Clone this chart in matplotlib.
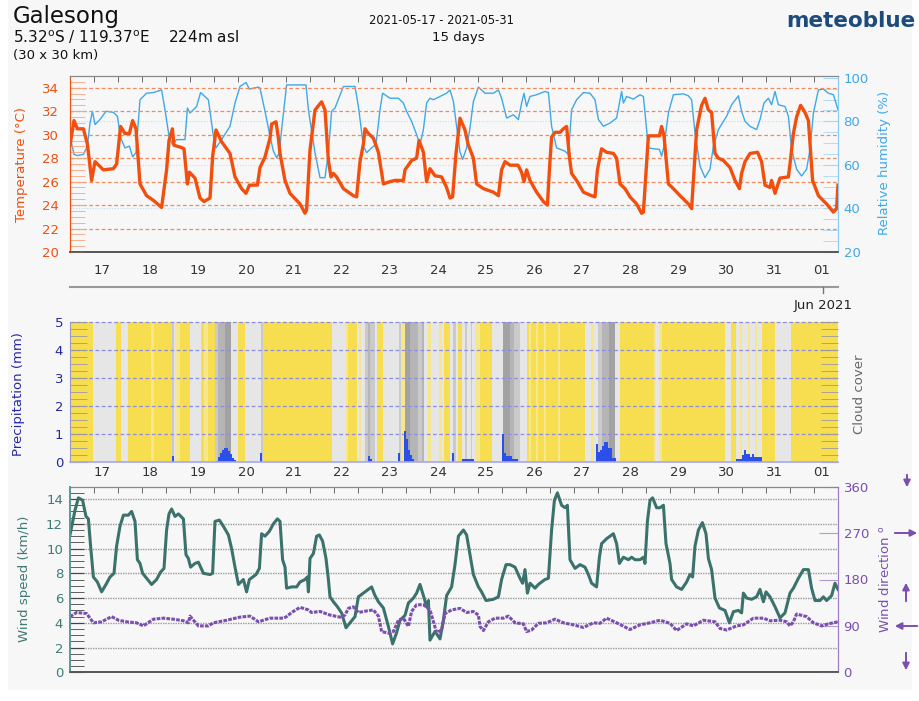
import numpy as np
import matplotlib
matplotlib.use("Agg")
import matplotlib.pyplot as plt
from matplotlib.patches import Rectangle, FancyArrowPatch
from matplotlib.lines import Line2D
from matplotlib.ticker import MultipleLocator

# time axis: hours from the left edge of the chart (16 days shown)
day_labels = ['17', '18', '19', '20', '21', '22', '23', '24', '25', '26',
              '27', '28', '29', '30', '31', '01']
day_hours = [16 + 24 * i for i in range(len(day_labels))]

# temperature (°C)
temp_h = [0, 2, 3.7, 6.7, 8.7, 10.8, 12.5, 16.7, 21.7, 23.3, 25.3, 27.5, 29.7, 31.3, 33, 35,
          38.3, 41.7, 45.8, 48.3, 49.5, 51.2, 52, 55.8, 57, 58.7, 59.7, 62.5, 65, 67, 70,
          71.3, 73, 75.8, 80, 82.5, 85.8, 88, 89.7, 93.7, 95, 97.5, 100, 100.8, 103, 104.2,
          105, 107.5, 110, 115, 117.5, 118.3, 120, 122.5, 125.8, 127.5, 129.2, 130.5, 131.7,
          133.3, 136.7, 141.7, 143.3, 145, 146.7, 147.5, 149.2, 151.7, 154.2, 156.7, 160,
          162.5, 166.7, 167.5, 170.8, 173.3, 174.5, 176.7, 178.3, 180, 182.5, 185.8, 188.3,
          190, 191.3, 193, 195, 197.5, 199, 201.7, 203.3, 206.7, 211.7, 214.2, 215.8, 217.5,
          220, 224, 225.8, 227, 228.3, 230, 233.3, 236.7, 238.7, 239.7, 240.8, 242.5, 245,
          246.7, 248.3, 249.7, 250.8, 253.3, 256.7, 260.8, 262.5, 263.7, 265.8, 268.3, 271.7,
          273.3, 275, 277.5, 280, 283.3, 285.8, 286.7, 289.2, 291.7, 294.7, 295.8, 297,
          299.2, 301.7, 305, 309.2, 310.8, 311.7, 313.3, 315.8, 317.5, 319.2, 320.8, 322.5,
          324.2, 326.7, 330, 332.5, 334.7, 335.8, 337.5, 340, 343.8, 345.8, 347.5, 350,
          350.8, 352.5, 355, 359.2, 360, 361.7, 363.3, 365.3, 367.5, 369.2, 371.3, 374.2,
          378.3, 381.7, 383.3, 384]
temp_c = [29.1, 31.2, 30.5, 30.5, 29.2, 26.1, 27.7, 27.0, 27.1, 27.5, 30.7, 30.1, 30.1, 31.2, 30.5, 25.8,
          24.8, 24.4, 23.8, 27.0, 29.5, 30.5, 29.1, 28.9, 28.8, 25.8, 26.8, 26.3, 24.6, 24.3, 24.6,
          28.1, 30.4, 29.4, 28.4, 26.4, 25.4, 25.0, 25.7, 25.7, 27.2, 28.1, 29.7, 30.9, 31.1, 29.7,
          28.4, 26.1, 25.0, 24.1, 23.3, 23.6, 28.7, 32.1, 32.8, 32.1, 27.8, 26.4, 26.7,
          26.4, 25.4, 24.8, 24.7, 27.7, 29.2, 30.5, 30.1, 29.7, 28.5, 25.8, 26.0,
          26.1, 26.1, 27.0, 27.8, 28.0, 29.5, 28.5, 26.0, 27.1, 26.5, 26.4, 25.5,
          24.6, 24.7, 28.4, 31.4, 30.4, 29.2, 28.0, 25.8, 25.4, 25.1, 24.8, 27.0, 27.7,
          27.4, 27.4, 26.8, 26.0, 27.0, 26.1, 25.1, 24.3, 24.0, 27.0, 29.8, 30.2, 30.2,
          30.5, 30.7, 28.1, 26.7, 26.1, 25.1, 24.8, 24.7, 27.0, 28.8, 28.5, 28.4,
          28.0, 25.8, 25.4, 24.7, 24.1, 23.3, 23.4, 29.9, 29.9, 29.9, 30.7, 29.9,
          25.8, 25.4, 24.8, 24.1, 23.7, 26.1, 30.4, 32.5, 33.1, 32.1, 31.9, 28.4,
          28.0, 27.8, 27.2, 26.1, 25.4, 26.7, 27.7, 28.4, 28.5, 27.7, 25.7, 25.5,
          26.1, 25.0, 26.3, 26.4, 27.5, 30.1, 31.5, 32.5, 31.9, 31.2, 26.1, 24.8,
          24.1, 23.4, 23.7, 25.7]

# relative humidity (%)
rh_h = [0, 2, 3.7, 6.7, 8.7, 10, 11.2, 12.5, 15, 18, 21.7, 23.7, 25.3, 27.5, 29.7, 31.3, 33,
        35, 38.3, 41.7, 45.8, 47.5, 49.5, 51.2, 53.3, 57.5, 58.7, 60, 63.3, 65.3, 69.2, 71.7,
        73, 75.8, 80, 82.5, 85, 88, 89.7, 94.2, 95, 97.5, 100, 101.7, 103.3, 104.7, 105.8,
        108.3, 118, 119.2, 122.5, 125, 127.5, 129.2, 130.8, 132.5, 136.7, 142.5, 144.2,
        146.7, 148.3, 150.8, 153, 155, 156.3, 160, 164.2, 166.7, 168.3, 170.8, 173.3, 175,
        176.7, 178.3, 180, 181.7, 185, 188.3, 190, 191.7, 193.3, 195, 196.3, 198.3, 200,
        201.7, 204.2, 207.5, 211.7, 214.2, 215.8, 218.3, 221.7, 224.2, 225.8, 227, 228.3,
        230, 233.3, 237.5, 239.2, 240.8, 243.3, 247.5, 249.2, 250.8, 253.3, 256.7, 260,
        262.5, 264.2, 266.7, 270, 273.3, 275.8, 276.7, 278.3, 281.7, 285, 286.7, 289.2,
        291.7, 294.7, 295.8, 297, 299.2, 301.7, 306.7, 309.2, 310.8, 312.5, 315, 317.5,
        320, 321.7, 324.2, 326.7, 328.3, 330.8, 334.2, 335.8, 337.5, 340, 343.3, 345, 347,
        349.2, 350.8, 352.5, 354.2, 357.5, 359.2, 360.8, 363.3, 365.8, 368.3, 370, 371.7,
        374.2, 376.7, 379.2, 381.7, 384]
rh_pct = [73.2, 64.8, 64.3, 64.8, 68.6, 79.2, 84.6, 78.5, 80.8, 84.6, 84.1, 82.3, 72.4, 67.8, 68.6, 63.7, 65.6,
          89.9, 92.9, 93.2, 94.4, 85.3, 73.2, 69.4, 71.6, 71.6, 86.1, 83.8, 86.8, 93.2, 89.9, 73.2,
          67.8, 71.6, 77.7, 88.4, 96.0, 97.8, 94.8, 95.7, 95.2, 84.6, 73.2, 66.3, 63.3, 65.6, 76.2,
          96.7, 96.7, 85.3, 65.6, 54.1, 54.1, 65.6, 84.6, 86.1, 96.0, 96.0, 86.8,
          68.6, 65.6, 67.8, 69.4, 85.3, 92.9, 90.6, 90.6, 88.4, 84.6, 80.0, 73.9, 69.4,
          76.2, 88.4, 90.6, 89.9, 91.4, 92.9, 94.4, 89.1, 77.7, 66.0, 62.5, 67.8, 77.0,
          89.1, 95.7, 92.9, 92.9, 94.4, 90.6, 81.5, 83.0, 80.8, 88.4, 92.9, 86.8,
          91.4, 92.2, 93.7, 93.2, 77.7, 67.8, 66.3, 64.8, 85.3, 89.9, 93.2, 92.9,
          89.9, 80.8, 77.7, 79.2, 81.5, 93.7, 88.4, 91.4, 90.2, 92.2, 91.4, 67.8,
          67.4, 67.1, 64.0, 68.6, 83.8, 92.2, 92.6, 91.7, 89.9, 74.7, 59.5, 54.1,
          58.0, 68.6, 76.2, 80.0, 82.3, 87.6, 91.7, 84.6, 80.0, 77.7, 76.2, 80.8, 88.4,
          90.6, 87.6, 93.7, 87.6, 86.8, 82.3, 67.1, 58.0, 54.9, 58.0, 67.1, 83.8,
          94.4, 94.8, 92.9, 92.2, 85.3]

# cloud cover bands: start hour and level (0 clear ... 5 overcast)
cloud_start = [0, 11.5, 23.2, 25.3, 29, 40.7, 42, 51, 52, 52.7, 54.8, 59.8, 65.3, 67, 69, 72.3,
               74, 77.7, 80.7, 84, 87.7, 95.7, 96.7, 131.2, 137.8, 138.8, 143.3, 144.5, 145.5,
               147.5, 149, 150, 152.5, 153.3, 156.7, 164.5, 165.5, 167.5, 170, 174.2, 176,
               177.2, 179.2, 180.5, 184.5, 186, 187.2, 190, 191.7, 192.8, 194, 195.8, 197.5,
               198.3, 200.5, 201.2, 202.5, 205, 210.8, 216.7, 220, 222, 225, 228.3, 229.5,
               230.5, 233, 234, 237, 238, 244, 245, 257.7, 260.7, 262, 264, 266, 269.3,
               272.7, 275.2, 291.8, 293, 294.5, 296, 327.3, 330.7, 333, 335, 336, 339, 340,
               342.5, 343.5, 346, 352.3, 360.7]
cloud_level = [0, 2, 0, 2, 0, 1, 0, 3, 2, 1, 0, 2, 0, 1, 0, 3,
               4, 5, 2, 0, 2, 3, 0, 2, 1, 0, 2, 1, 2,
               3, 4, 3, 2, 0, 2, 3, 1, 5, 4, 3, 4,
               2, 1, 2, 1, 2, 0, 2, 3, 2, 0, 2, 3,
               2, 3, 2, 1, 0, 2, 5, 4, 3, 2, 0, 1,
               0, 1, 0, 1, 0, 1, 0, 2, 1, 2, 3, 4, 5,
               2, 0, 1, 2, 1, 0, 2, 0, 2, 1, 2, 1, 2,
               1, 2, 0, 2, 0]

# precipitation (mm per hour)
precip_h = [51, 73, 74, 75, 76, 77, 78, 79, 80, 81, 82, 95, 149, 150, 164, 167, 168, 169, 170,
            171, 191, 196, 197, 198, 199, 200, 201, 216, 217, 218, 219, 220, 221, 222, 223,
            263, 264, 265, 266, 267, 268, 269, 270, 271, 272, 333, 334, 335, 336, 337, 338,
            339, 340, 341, 342, 343, 344, 345]
precip_mm = [0.22, 0.05, 0.18, 0.32, 0.45, 0.52, 0.5, 0.4, 0.28, 0.15, 0.08, 0.34, 0.21, 0.12, 0.33,
             1.11, 0.83, 0.44, 0.26, 0.12, 0.33, 0.12, 0.12, 0.12, 0.12, 0.12, 0.12, 1.0, 0.33,
             0.21, 0.21, 0.21, 0.12, 0.12, 0.12, 0.64, 0.38, 0.44, 0.59, 0.71, 0.71, 0.5, 0.5,
             0.14, 0.14, 0.12, 0.12, 0.12, 0.26, 0.43, 0.31, 0.31, 0.19, 0.31, 0.19, 0.19,
             0.19, 0.19]

# wind speed (km/h)
ws_h = [0, 2.5, 4.2, 6.3, 8, 9.2, 10.3, 11.7, 13.7, 15.8, 18, 20, 22, 23.3, 25, 26.7, 29.2,
        30.8, 32.5, 33.7, 35, 36.3, 38.3, 40.8, 43.3, 45.3, 47, 48.3, 49.5, 50.8, 52.5, 54.2,
        56.7, 58, 59.2, 60.3, 62.5, 64.2, 66.7, 70, 71.3, 72.5, 74.7, 76.7, 79.2, 80.8, 82.5,
        84.2, 86.7, 88.3, 89.7, 93, 94.7, 95.8, 97.5, 99.7, 101.7, 103.7, 105, 106.3, 107.5,
        108.3, 110.8, 113.3, 115, 117.5, 118.7, 119.2, 120, 121.7, 123.3, 124.7, 126.3, 128,
        129.2, 130, 131.7, 133.7, 135.8, 138, 140, 142.5, 144.2, 146.7, 149.2, 150.8, 152.5,
        154.2, 156.7, 159.2, 161.3, 163.3, 165, 167.5, 169.2, 171.7, 173.3, 175, 176.7, 178.3,
        179.2, 180, 182.5, 185, 186.7, 188.3, 190.8, 192.5, 194.2, 196.7, 198.3, 201.7, 204.2,
        205.8, 208, 211.7, 214.2, 215.8, 218, 220, 222.5, 225, 226.3, 227.5, 228.7, 230,
        232.5, 234.2, 235.8, 237.5, 239.2, 240.8, 242.2, 243.7, 245.8, 247.5, 248.7, 250,
        252.5, 255, 257.5, 259.2, 260.8, 263.3, 264.7, 265.8, 268.3, 271.7, 273.3, 274.7,
        276.7, 279.2, 280.8, 282.5, 285, 286.7, 287.5, 288.7, 290, 291.3, 293.3, 295, 296.7,
        298, 300, 300.8, 303.3, 305.8, 308.3, 310, 311.3, 312.5, 314.2, 316.2, 318, 319.2,
        320.8, 322.5, 324.7, 327.5, 329.7, 331.7, 334.2, 335.8, 336.7, 338.3, 340.8, 343.3,
        345, 346.7, 348, 350, 352.5, 355, 357.5, 360, 361.7, 364.2, 366.7, 369.2, 370.8,
        372.5, 375, 376.7, 378.3, 380.8, 382.5, 384]
ws_kmh = [11.1, 13.1, 14.1, 13.9, 12.6, 12.4, 10.2, 7.7, 7.3, 6.5, 7.1, 7.7, 8.0, 10.2, 11.8, 12.7, 12.7,
          13.0, 12.2, 9.1, 8.8, 8.0, 7.6, 7.1, 7.5, 8.1, 8.4, 11.5, 12.8, 13.2, 12.6, 12.8,
          12.4, 9.5, 9.2, 8.5, 8.8, 8.9, 8.0, 7.9, 8.0, 12.2, 12.3, 11.8, 11.1, 10.0, 8.5,
          7.1, 7.5, 6.5, 7.5, 7.9, 8.4, 11.2, 11.0, 11.4, 12.0, 12.4, 12.2, 9.1, 8.5,
          6.8, 6.9, 6.9, 7.3, 7.5, 7.7, 6.5, 9.2, 9.6, 11.0, 11.1, 10.6, 9.2,
          7.5, 6.1, 5.7, 5.3, 4.8, 3.6, 4.0, 4.5, 6.1, 6.4, 6.7, 6.9, 6.2,
          5.7, 5.2, 3.7, 2.3, 3.2, 4.2, 4.6, 5.6, 6.0, 6.4, 7.1, 6.2, 5.3,
          5.8, 2.6, 3.3, 2.7, 4.2, 6.2, 6.9, 8.7, 11.0, 11.5, 11.1, 7.9, 6.9,
          6.5, 5.8, 5.9, 6.1, 7.5, 8.7, 8.7, 8.5, 7.6, 7.2, 8.3, 6.4, 7.2,
          6.8, 7.1, 7.3, 7.5, 7.6, 11.5, 13.9, 14.5, 13.5, 13.3, 13.5, 9.1,
          8.4, 8.7, 8.5, 7.9, 7.2, 6.9, 9.3, 10.4, 10.8, 11.2, 10.4, 8.8,
          9.3, 9.1, 9.3, 9.1, 9.1, 9.3, 8.8, 12.2, 13.9, 14.1, 13.3, 13.3, 13.5,
          10.4, 8.8, 7.5, 6.9, 6.7, 7.3, 7.9, 7.7, 10.2, 11.5, 12.1, 11.2, 9.2,
          8.3, 6.0, 5.2, 5.0, 4.0, 4.9, 5.0, 4.8, 6.4, 6.0, 5.9, 6.1,
          6.7, 5.7, 6.5, 6.1, 5.3, 4.4, 4.8, 6.4, 6.8, 7.6, 8.3, 8.3, 6.8,
          5.8, 5.8, 6.1, 5.8, 6.2, 7.2, 6.7]

# wind direction (degrees)
wd_h = [0, 3.3, 8.3, 11.7, 15.8, 20.8, 24.2, 28.3, 33.3, 36.7, 41.7, 46.7, 51.7, 56.7, 59.2,
        60, 64.2, 69.2, 71.7, 78.3, 85, 90, 94.2, 100, 106.7, 108.3, 110.8, 115, 119.2,
        120.8, 125, 130, 135, 137.5, 139.2, 141.7, 144.2, 148.3, 151.7, 154.2, 155.8, 159.2,
        161.7, 164.2, 166.7, 169.2, 170.8, 173.3, 176.7, 180, 183.3, 185.8, 187.5, 190.8,
        195, 198.3, 201.7, 204.2, 205, 206.7, 209.2, 212.5, 216.7, 219.2, 222.5, 226.7,
        228.3, 230.8, 234.2, 238.3, 242.5, 246.7, 251.7, 256.7, 261.7, 265, 268.3, 273.3,
        280, 285, 290, 295, 300, 303.3, 308.3, 311.7, 316.7, 322.5, 325, 328.3, 333.3,
        336.7, 341.7, 346.7, 350, 355, 358.3, 360, 361.7, 363.3, 368.3, 371.7, 375.8,
        379.2, 384]
wd_deg = [108, 116, 114, 96, 98, 108, 101, 98, 96, 90, 103, 105, 103, 100, 96,
          109, 90, 90, 96, 101, 107, 109, 98, 105, 105, 108, 116, 126, 121,
          116, 118, 111, 107, 111, 124, 127, 116, 119, 121, 109, 79, 76,
          79, 101, 105, 89, 118, 131, 131, 121, 77, 82, 114, 121,
          124, 116, 118, 111, 89, 81, 98, 105, 105, 109, 96, 94,
          79, 82, 95, 96, 103, 96, 92, 87, 96, 95, 105, 96,
          83, 92, 96, 101, 95, 81, 94, 90, 101, 98, 85, 82, 90,
          92, 105, 105, 100, 101, 98, 90, 98, 113, 108, 96, 90,
          94, 98]

temp_col = '#F24E0D'
rh_col = '#3DA9E8'
precip_col = '#2B4FE8'
ws_col = '#3B726C'
wd_col = '#7A4FAE'
band_cols = ['#F7DE50', '#F6E68E', '#E6E6E6', '#CACACA', '#B5B5B5', '#A2A2A2']
bg = '#F7F7F7'

W, H = 920, 701
fig = plt.figure(figsize=(W / 100, H / 100), dpi=100, facecolor='white')
fig.patches.append(Rectangle((8 / W, 11 / H), 904 / W, 690 / H, transform=fig.transFigure,
                             facecolor=bg, edgecolor='none', zorder=-10))


def box(top, bottom, left=70, right=838):
    return [left / W, 1 - bottom / H, (right - left) / W, (bottom - top) / H]


def time_axis(ax, labels=True, pad=8):
    ax.set_xlim(0, 384)
    ax.set_xticks(day_hours)
    ax.set_xticklabels(day_labels if labels else [])
    ax.xaxis.set_minor_locator(MultipleLocator(12))
    ax.xaxis.remove_overlapping_locs = False
    ax.tick_params(axis='x', which='major', length=0, labelsize=9.5, labelcolor='#333333', pad=pad)


# ---------- temperature / humidity ----------
ax_t = fig.add_axes(box(76, 252))
ax_h = ax_t.twinx()
ax_h.set_zorder(ax_t.get_zorder() - 1)
ax_t.patch.set_visible(False)
ax_h.set_facecolor(bg)

for v in [40, 60, 80]:
    ax_h.axhline(v, color='#BFE0F5', lw=0.8, ls=(0, (1, 1.5)), zorder=0)
ax_h.plot(rh_h, rh_pct, color=rh_col, lw=1.0)
ax_h.set_ylim(20.5, 100.8)
ax_h.set_yticks([20, 40, 60, 80, 100])
ax_h.yaxis.set_minor_locator(MultipleLocator(5))
ax_h.tick_params(axis='y', which='both', direction='in', length=11, color='#A8D8F5',
                 labelcolor=rh_col, labelsize=9.5, pad=4)

for v in range(22, 35, 2):
    ax_t.axhline(v, color='#F28A5E', lw=0.9, ls=(0, (3, 2)), zorder=1)
ax_t.plot(temp_h, temp_c, color=temp_col, lw=2.4, zorder=3, solid_joinstyle='round')
ax_t.set_ylim(20, 35)
ax_t.set_yticks(range(20, 35, 2))
ax_t.yaxis.set_minor_locator(MultipleLocator(0.5))
ax_t.tick_params(axis='y', which='both', direction='in', length=11, color='#F5A582',
                 labelcolor=temp_col, labelsize=9.5, pad=8)
time_axis(ax_t, pad=9)
ax_t.tick_params(axis='x', which='minor', bottom=False, top=True, direction='in',
                 length=4, color='#555555')
for a in (ax_t, ax_h):
    a.spines['left'].set_color(temp_col)
    a.spines['right'].set_color('#8CCBF0')
    a.spines['top'].set_color('#888888')
    a.spines['bottom'].set_color('#555555')
    a.spines['bottom'].set_linewidth(1.2)

# ---------- precipitation / cloud cover ----------
ax_p = fig.add_axes(box(321.7, 462.3))
ax_p.set_facecolor(bg)
for i, s in enumerate(cloud_start):
    e = cloud_start[i + 1] if i + 1 < len(cloud_start) else 384
    ax_p.axvspan(s, e, color=band_cols[cloud_level[i]], lw=0, zorder=0)
for v in [1, 2, 3, 4, 5]:
    ax_p.axhline(v, color='#8C8CE0', lw=0.9, ls=(0, (3, 2)), zorder=1, clip_on=False)
ax_p.bar(precip_h, precip_mm, width=1.0, align='edge', color=precip_col, zorder=2, lw=0)
ax_p.set_ylim(0, 5)
ax_p.set_yticks(range(0, 6))
ax_p.yaxis.set_minor_locator(MultipleLocator(0.25))
ax_p.tick_params(axis='y', which='both', direction='in', length=12, color='#9A9A9A',
                 labelcolor='#2626A8', labelsize=9.5, pad=5, right=True)
time_axis(ax_p, pad=3)
ax_p.tick_params(axis='x', which='minor', bottom=False, top=False)
for side in ['top', 'right']:
    ax_p.spines[side].set_visible(False)
ax_p.spines['left'].set_color('#9A9AC8')
ax_p.spines['bottom'].set_color('#A8A8E8')
ax_p.spines['bottom'].set_linewidth(1.2)

# ---------- wind ----------
ax_w = fig.add_axes(box(486.7, 672.3))
ax_w.set_facecolor(bg)
ax_d = ax_w.twinx()
for v in range(2, 15, 2):
    ax_w.axhline(v, color='#9A9A9A', lw=1.0, ls=(0, (1, 0.8)), zorder=1)
ax_w.plot(ws_h, ws_kmh, color=ws_col, lw=2.2, zorder=3)
ax_w.set_ylim(0, 15)
ax_w.set_yticks(range(0, 15, 2))
ax_w.yaxis.set_minor_locator(MultipleLocator(0.5))
ax_w.tick_params(axis='y', which='both', direction='in', length=10, color='#444444',
                 labelcolor='#3F7A76', labelsize=9.5, pad=5)
time_axis(ax_w, labels=False)
ax_w.tick_params(axis='x', which='minor', bottom=False, top=True, direction='in',
                 length=4, color='#555555')

ax_d.plot(wd_h, wd_deg, color=wd_col, lw=2.2, ls=(0, (1.2, 0.4)))
ax_d.set_ylim(0, 360)
ax_d.set_yticks([0, 90, 180, 270, 360])
ax_d.tick_params(axis='y', direction='in', length=14, color='#B49AD8',
                 labelcolor=wd_col, labelsize=9.5, pad=4)
for a in (ax_w, ax_d):
    a.spines['left'].set_color('#5E9A96')
    a.spines['left'].set_linewidth(1.3)
    a.spines['right'].set_color('#9C7CC8')
    a.spines['top'].set_color('#888888')
    a.spines['bottom'].set_color('#555555')
    a.spines['bottom'].set_linewidth(1.2)

# ---------- texts ----------
def ftext(x, y, s, **kw):
    fig.text(x / W, 1 - y / H, s, **kw)


ftext(13, 17, 'Galesong', fontsize=16.5, va='center', color='#111111')
ftext(13, 37, r'5.32$^{\mathrm{o}}$S / 119.37$^{\mathrm{o}}$E    224m asl', fontsize=11,
      va='center', color='#111111')
ftext(13, 55, '(30 x 30 km)', fontsize=9.5, va='center', color='#111111')
ftext(441, 20, '2021-05-17 - 2021-05-31', fontsize=8.3, ha='center', va='center', color='#111111')
ftext(458, 38, '15 days', fontsize=9.5, ha='center', va='center', color='#111111')
ftext(851, 21, 'meteoblue', fontsize=15.5, fontweight='bold', ha='center', va='center',
      color='#1D4C7C')
ftext(823, 305, 'Jun 2021', fontsize=9.5, ha='center', va='center', color='#222222')

ftext(22, 164, 'Temperature (°C)', rotation=90, fontsize=9.5, ha='center', va='center', color=temp_col)
ftext(885, 163, 'Relative humidity (%)', rotation=90, fontsize=9.5, ha='center', va='center', color=rh_col)
ftext(19, 394, 'Precipitation (mm)', rotation=90, fontsize=9.5, ha='center', va='center', color='#2626A8')
ftext(860, 394, 'Cloud cover', rotation=90, fontsize=9.5, ha='center', va='center', color='#666666')
ftext(25, 579, 'Wind speed (km/h)', rotation=90, fontsize=9.5, ha='center', va='center', color='#3F7A76')
ftext(885, 579, r'Wind direction $^{\mathrm{o}}$', rotation=90, fontsize=9.5, ha='center',
      va='center', color=wd_col)

# separator between temperature and precipitation panels
fig.lines.append(Line2D([70 / W, 838 / W], [1 - 286.7 / H] * 2, transform=fig.transFigure,
                        color='#999999', lw=1.5))
fig.lines.append(Line2D([823 / W] * 2, [1 - 286.7 / H, 1 - 293 / H], transform=fig.transFigure,
                        color='#777777', lw=1))

# wind direction arrows
arrows = [((907, 472), (907, 490)), ((892, 533), (920, 533)), ((906, 604), (906, 580)),
          ((920, 626), (892, 626)), ((906, 650), (906, 673))]
for (x0, y0), (x1, y1) in arrows:
    fig.add_artist(FancyArrowPatch(
        (x0 / W, 1 - y0 / H), (x1 / W, 1 - y1 / H), transform=fig.transFigure,
        arrowstyle='-|>,head_length=4,head_width=2', color=wd_col, lw=1.4))

fig.savefig('out.png', dpi=100, facecolor='white')
